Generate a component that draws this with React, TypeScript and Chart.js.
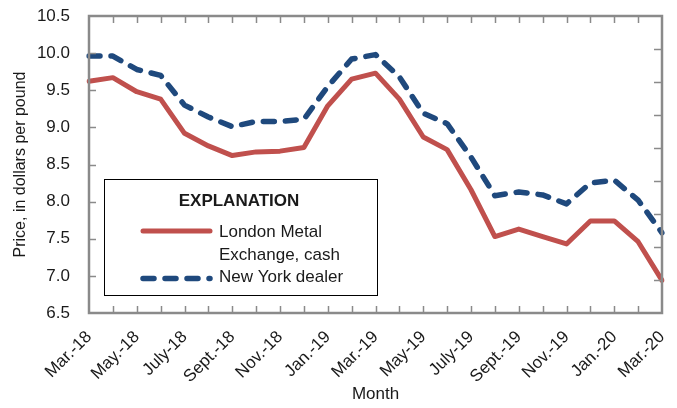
import React, { useEffect, useRef } from "react";
import { Chart, registerables } from "chart.js";

Chart.register(...registerables);

const months = [
  "Mar.-18", "Apr.-18", "May.-18", "June-18", "July-18", "Aug.-18", "Sept.-18", "Oct.-18", "Nov.-18", "Dec.-18",
  "Jan.-19", "Feb.-19", "Mar.-19", "Apr.-19", "May-19", "June-19", "July-19", "Aug.-19", "Sept.-19", "Oct.-19",
  "Nov.-19", "Dec.-19", "Jan.-20", "Feb.-20", "Mar.-20",
];

const lmeCash = [
  9.62, 9.67, 9.48, 9.38, 8.92, 8.75, 8.62, 8.67, 8.68, 8.73,
  9.29, 9.65, 9.73, 9.38, 8.87, 8.70, 8.16, 7.53, 7.63, 7.53,
  7.43, 7.74, 7.74, 7.46, 6.94,
];

const nyDealer = [
  9.96, 9.96, 9.78, 9.70, 9.30, 9.14, 9.01, 9.08, 9.08, 9.11,
  9.55, 9.92, 9.98, 9.68, 9.19, 9.05, 8.60, 8.08, 8.13, 8.09,
  7.97, 8.25, 8.29, 8.02, 7.58,
];

const seriesNames = ["London Metal Exchange, cash", "New York dealer"];
const legendLines = [["London Metal", "Exchange, cash"], ["New York dealer"]];
const legendTitle = "EXPLANATION";
const yTitle = "Price, in dollars per pound";
const xTitle = "Month";

const FONT = "'Liberation Sans', Arial, sans-serif";
const TEXT = "#1a1a1a";
const AXIS = "#8a8a8a";

const framePlugin = {
  id: "frame",
  afterDatasetsDraw(chart: any) {
    const { ctx, chartArea: a, scales } = chart;
    const x = scales.x, y = scales.y, y2 = scales.y2;
    ctx.save();
    ctx.strokeStyle = AXIS;
    ctx.lineWidth = 1.5;
    ctx.beginPath();
    for (let i = 1; i < months.length - 1; i++) {
      const px = Math.round(x.getPixelForValue(i)) + 0.5;
      ctx.moveTo(px, a.top); ctx.lineTo(px, a.top + 7);
      ctx.moveTo(px, a.bottom); ctx.lineTo(px, a.bottom - 7);
    }
    for (let v = 7; v <= 10; v += 0.5) {
      const py = Math.round(y.getPixelForValue(v)) + 0.5;
      ctx.moveTo(a.left, py); ctx.lineTo(a.left + 7, py);
    }
    for (let v = 1; v <= 8; v++) {
      const py = Math.round(y2.getPixelForValue(v)) + 0.5;
      ctx.moveTo(a.right, py); ctx.lineTo(a.right - 8, py);
    }
    ctx.stroke();
    ctx.lineWidth = 2.5;
    ctx.strokeRect(a.left, a.top, a.right - a.left, a.bottom - a.top);
    ctx.restore();
  },
  afterDraw(chart: any) {
    const { ctx } = chart;
    const ds = chart.data.datasets;
    ctx.save();
    ctx.fillStyle = "#ffffff";
    ctx.fillRect(104, 179, 274, 117);
    ctx.strokeStyle = "#000000";
    ctx.lineWidth = 1;
    ctx.strokeRect(104.5, 179.5, 273, 116);
    ctx.fillStyle = TEXT;
    ctx.textBaseline = "middle";
    ctx.textAlign = "center";
    ctx.font = `bold 17px ${FONT}`;
    ctx.fillText(legendTitle, 239, 201);
    ctx.textAlign = "left";
    ctx.font = `17px ${FONT}`;
    const rows = [[232, 255.5], [277]];
    const lineY = [231, 278.5];
    for (let k = 0; k < ds.length; k++) {
      ctx.strokeStyle = ds[k].borderColor;
      ctx.lineWidth = ds[k].borderWidth;
      ctx.lineCap = "round";
      ctx.setLineDash(ds[k].borderDash || []);
      ctx.beginPath();
      ctx.moveTo(143, lineY[k]);
      ctx.lineTo(210, lineY[k]);
      ctx.stroke();
      ctx.setLineDash([]);
      legendLines[k].forEach((t, j) => ctx.fillText(t, 219, rows[k][j]));
    }
    ctx.restore();
  },
};

export default function App() {
  const ref = useRef<HTMLCanvasElement>(null);
  useEffect(() => {
    if (!ref.current) return;
    const chart = new Chart(ref.current, {
      type: "line",
      data: {
        labels: months,
        datasets: [
          {
            label: seriesNames[0],
            data: lmeCash,
            borderColor: "#C0504D",
            borderWidth: 5,
            pointRadius: 0,
            tension: 0,
            borderJoinStyle: "round",
            borderCapStyle: "round",
          },
          {
            label: seriesNames[1],
            data: nyDealer,
            borderColor: "#1F497D",
            borderWidth: 5.5,
            borderDash: [11, 11],
            pointRadius: 0,
            tension: 0,
            borderJoinStyle: "round",
            borderCapStyle: "round",
          },
        ],
      },
      options: {
        animation: false,
        responsive: false,
        layout: { padding: { top: 16, right: 0, left: 0, bottom: 0 } },
        plugins: { legend: { display: false }, tooltip: { enabled: false } },
        scales: {
          x: {
            type: "category",
            offset: false,
            grid: { display: false, drawTicks: false },
            border: { display: false },
            ticks: {
              autoSkip: false,
              maxRotation: 45,
              minRotation: 45,
              padding: 14,
              color: TEXT,
              font: { family: FONT, size: 17 },
              callback: (_v: any, i: number) => (i % 2 === 0 ? months[i] : ""),
            },
            title: {
              display: true,
              text: xTitle,
              color: TEXT,
              font: { family: FONT, size: 17 },
              padding: { top: 0, bottom: 3 },
            },
            afterFit: (s: any) => {
              s.height = 95;
              s.paddingLeft = 0;
              s.paddingRight = 0;
            },
          },
          y: {
            position: "left",
            min: 6.5,
            max: 10.5,
            grid: { display: false, drawTicks: false },
            border: { display: false },
            ticks: {
              stepSize: 0.5,
              padding: 19,
              color: TEXT,
              font: { family: FONT, size: 17 },
              callback: (v: any) => Number(v).toFixed(1),
            },
            title: {
              display: true,
              text: yTitle,
              color: TEXT,
              font: { family: FONT, size: 16 },
              padding: { top: 11, bottom: 0 },
            },
            afterFit: (s: any) => {
              s.width = 89;
              s.paddingTop = 0;
              s.paddingBottom = 0;
            },
          },
          y2: {
            position: "right",
            min: 0,
            max: 9,
            grid: { display: false, drawTicks: false },
            border: { display: false },
            ticks: { display: false, stepSize: 1 },
            afterFit: (s: any) => {
              s.width = 15;
              s.paddingTop = 0;
              s.paddingBottom = 0;
            },
          },
        },
      },
      plugins: [framePlugin],
    });
    return () => chart.destroy();
  }, []);
  return (
    <div style={{ position: "fixed", left: 0, top: 0, width: 677, height: 408, background: "#fff" }}>
      <canvas ref={ref} width={677} height={408} style={{ display: "block" }} />
    </div>
  );
}
